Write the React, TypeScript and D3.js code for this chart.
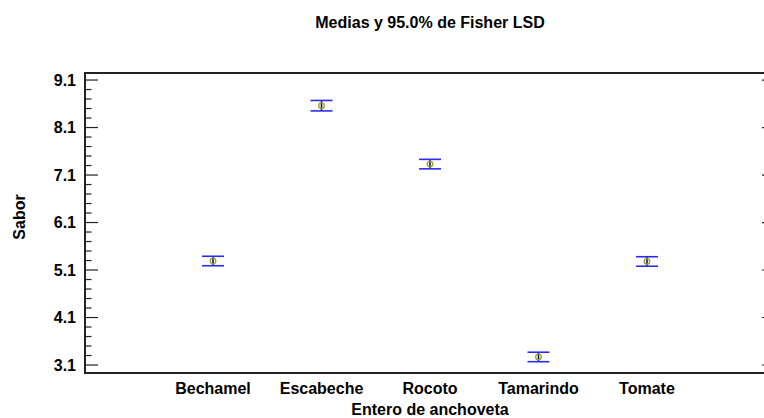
import React from "react";
import * as d3 from "d3";

const categories = ["Bechamel", "Escabeche", "Rocoto", "Tamarindo", "Tomate"];
const means = [5.29, 8.56, 7.33, 3.27, 5.28];
const lower = [5.19, 8.45, 7.23, 3.17, 5.18];
const upper = [5.39, 8.67, 7.43, 3.37, 5.38];
const yTicks = [3.1, 4.1, 5.1, 6.1, 7.1, 8.1, 9.1];

const W = 764;
const H = 418;
const left = 85;
const right = 775;
const top = 73;
const bottom = 373;

export default function App() {
  const x = d3.scaleLinear().domain([-0.18, 6.18]).range([left, right]);
  const y = d3.scaleLinear().domain([2.932, 9.248]).range([bottom, top]);
  const minor: number[] = [];
  for (let i = 0; i <= 34; i++) {
    const v = +(2.7 + i * 0.2).toFixed(2);
    if (v > 2.93 && v < 9.25 && !yTicks.some((t) => Math.abs(t - v) < 1e-6)) minor.push(v);
  }
  const font = "'Liberation Sans', Arial, sans-serif";
  const fs = 16;
  const capHalf = 11;
  return (
    <svg
      width={W}
      height={H}
      style={{ position: "fixed", left: 0, top: 0, background: "#fff" }}
      fontFamily={font}
    >
      <rect x={0} y={0} width={W} height={H} fill="#fff" />
      <text x={430} y={22} dy="0.36em" textAnchor="middle" fontSize={fs} fontWeight="bold">
        Medias y 95.0% de Fisher LSD
      </text>
      {yTicks.map((t) => (
        <g key={"M" + t}>
          <line x1={left} x2={left + 13} y1={y(t)} y2={y(t)} stroke="#222" strokeWidth={1.2} />
          <line x1={right - 13} x2={right} y1={y(t)} y2={y(t)} stroke="#222" strokeWidth={1.2} />
          <text x={76} y={y(t)} dy="0.36em" textAnchor="end" fontSize={fs} fontWeight="bold">
            {t.toFixed(1)}
          </text>
        </g>
      ))}
      {minor.map((t) => (
        <g key={"m" + t}>
          <line x1={left} x2={left + 6.5} y1={y(t)} y2={y(t)} stroke="#222" strokeWidth={1.2} />
          <line x1={right - 6.5} x2={right} y1={y(t)} y2={y(t)} stroke="#222" strokeWidth={1.2} />
        </g>
      ))}
      <rect x={left} y={top} width={right - left} height={bottom - top} fill="none" stroke="#222" strokeWidth={2} />
      {categories.map((c, i) => {
        const cx = x(i + 1);
        return (
          <g key={c}>
            <line x1={cx} x2={cx} y1={y(upper[i])} y2={y(lower[i])} stroke="#000080" strokeWidth={1.5} />
            <line x1={cx - capHalf} x2={cx + capHalf} y1={y(upper[i])} y2={y(upper[i])} stroke="#2a2aff" strokeWidth={1.6} />
            <line x1={cx - capHalf} x2={cx + capHalf} y1={y(lower[i])} y2={y(lower[i])} stroke="#2a2aff" strokeWidth={1.6} />
            <circle cx={cx} cy={y(means[i])} r={2.8} fill="none" stroke="#a0a020" strokeWidth={1.3} />
            <text x={cx} y={388} dy="0.36em" textAnchor="middle" fontSize={fs} fontWeight="bold">
              {c}
            </text>
          </g>
        );
      })}
      <text x={430} y={409} dy="0.36em" textAnchor="middle" fontSize={fs} fontWeight="bold">
        Entero de anchoveta
      </text>
      <text
        transform={`translate(19,217) rotate(-90)`}
        dy="0.36em"
        textAnchor="middle"
        fontSize={fs}
        fontWeight="bold"
      >
        Sabor
      </text>
    </svg>
  );
}
